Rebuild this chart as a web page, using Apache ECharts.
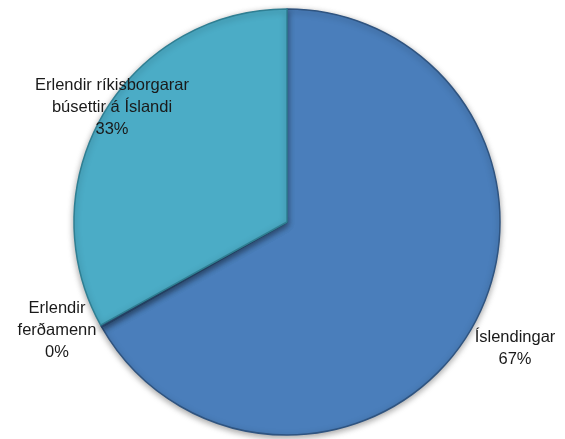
<!DOCTYPE html>
<html><head><meta charset="utf-8">
<script src="https://cdn.jsdelivr.net/npm/echarts@6/dist/echarts.min.js"></script>
<style>html,body{margin:0;padding:0;background:#fff}#c{width:565px;height:439px}</style>
</head><body><div id="c"></div>
<script>
const categories = ['Íslendingar', 'Erlendir\nferðamenn', 'Erlendir ríkisborgarar\nbúsettir á Íslandi'];
const values = [66.8, 0.15, 33.05];
const pctLabels = ['67%', '0%', '33%'];
const colors = ['#4a7ebb', '#4a7ebb', '#4bacc6'];
const borders = ['#2f5480', '#2f5480', '#2f7f93'];

const labelPos = [
  {x: 515, y: 348},
  {x: 57, y: 330},
  {x: 112, y: 107}
];

const chart = echarts.init(document.getElementById('c'));
const data = categories.map((c, i) => ({
  name: c, value: values[i],
  itemStyle: {color: colors[i], borderColor: borders[i]},
  label: {formatter: c + '\n' + pctLabels[i]}
}));
chart.setOption({
  animation: false,
  series: [{
    type: 'pie',
    center: [287, 222],
    radius: 213,
    startAngle: 90,
    clockwise: true,
    data: data,
    itemStyle: {borderWidth: 1.5, shadowBlur: 6, shadowColor: 'rgba(0,0,0,0.35)', shadowOffsetY: 2},
    label: {
      show: true, position: 'outside', color: '#1a1a1a', overflow: 'none', width: 300,
      fontFamily: 'Liberation Sans, Arial, sans-serif', fontSize: 16.5, lineHeight: 22, align: 'center'
    },
    labelLine: {show: false},
    labelLayout: function (p) {
      const pos = labelPos[p.dataIndex];
      return {x: pos.x, y: pos.y, align: 'center', verticalAlign: 'middle'};
    }
  }, {
    type: 'pie',
    center: [287, 222],
    radius: 213,
    startAngle: 90,
    silent: true,
    z: 1,
    data: values.map(v => ({value: v})),
    itemStyle: {
      borderWidth: 0,
      color: {type: 'radial', x: 287, y: 222, r: 213, global: true,
        colorStops: [{offset: 0, color: 'rgba(255,255,255,0.06)'}, {offset: 0.86, color: 'rgba(0,0,0,0)'}, {offset: 1, color: 'rgba(0,0,0,0.32)'}]}
    },
    label: {show: false}, labelLine: {show: false}
  }]
});
</script></body></html>
